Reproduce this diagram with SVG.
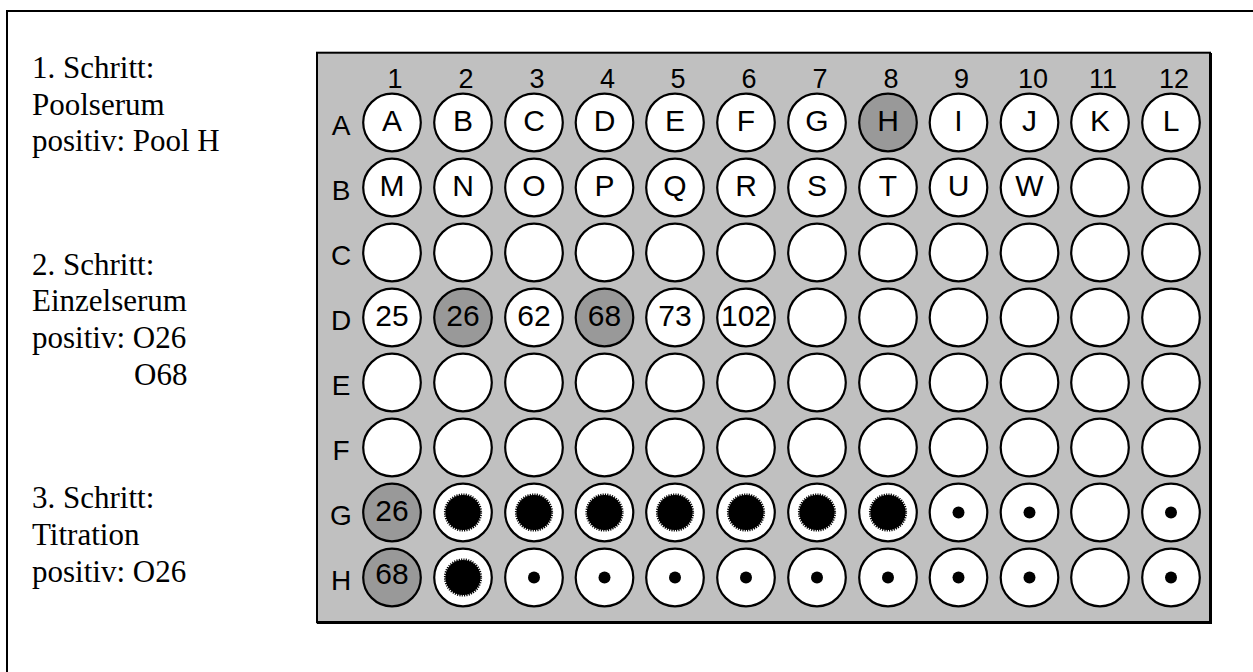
<svg xmlns="http://www.w3.org/2000/svg" xmlns:xlink="http://www.w3.org/1999/xlink" width="1253" height="672" viewBox="0 0 1253 672">
<style>
.w{fill:#fff;stroke:#000;stroke-width:2.2}
.g{fill:#999;stroke:#000;stroke-width:2.2}
.l{font-family:"Liberation Sans",Arial,sans-serif;font-size:30px;text-anchor:middle;fill:#000}
.n{font-family:"Liberation Sans",Arial,sans-serif;font-size:27px;text-anchor:middle;fill:#000}
.r{font-family:"Liberation Sans",Arial,sans-serif;font-size:28px;text-anchor:middle;fill:#000}
.s{font-family:"Liberation Serif","Times New Roman",serif;font-size:31px;fill:#000}
</style>
<defs>
<circle id="sp" r="17.6" fill="#000" stroke="#000" stroke-width="3" stroke-dasharray="1.15 1.15"/>
<circle id="dot" r="6" fill="#000"/>
</defs>
<rect width="1253" height="672" fill="#fff"/>
<g id="frame" stroke="#000" stroke-width="2" fill="none">
<line x1="6" y1="11" x2="1253" y2="11"/>
<line x1="7" y1="10" x2="7" y2="672"/>
</g>
<g id="steps">
<g id="step1"><text class="s" x="32" y="78">1. Schritt:</text><text class="s" x="32" y="114.5">Poolserum</text><text class="s" x="32" y="150.5">positiv: Pool H</text></g>
<g id="step2"><text class="s" x="32" y="275">2. Schritt:</text><text class="s" x="32" y="311">Einzelserum</text><text class="s" x="32" y="348">positiv: O26</text><text class="s" x="134" y="385">O68</text></g>
<g id="step3"><text class="s" x="32" y="508">3. Schritt:</text><text class="s" x="32" y="544.5">Titration</text><text class="s" x="32" y="581.5">positiv: O26</text></g>
</g>
<g id="plate">
<rect x="317" y="52.7" width="893" height="569.5" fill="#c0c0c0" stroke="#000" stroke-width="2"/>
<path d="M1210.5,53 V622.5 H317" fill="none" stroke="#000" stroke-width="3"/>
<g id="colnums">
<text class="n" x="395" y="88">1</text><text class="n" x="466" y="88">2</text><text class="n" x="537" y="88">3</text><text class="n" x="607.5" y="88">4</text><text class="n" x="678" y="88">5</text><text class="n" x="749" y="88">6</text><text class="n" x="820" y="88">7</text><text class="n" x="891" y="88">8</text><text class="n" x="961.5" y="88">9</text><text class="n" x="1033" y="88">10</text><text class="n" x="1103" y="88">11</text><text class="n" x="1174" y="88">12</text>
</g>
<g id="rowlabels">
<text class="r" x="341" y="134.5">A</text><text class="r" x="341" y="199.5">B</text><text class="r" x="341" y="264.5">C</text><text class="r" x="341" y="329.5">D</text><text class="r" x="341" y="394.5">E</text><text class="r" x="341" y="459.5">F</text><text class="r" x="341" y="524.5">G</text><text class="r" x="341" y="589.5">H</text>
</g>
</g>
<g id="wells">
<g id="A1" transform="translate(392,122.5)"><circle class="w" r="28.8"/><text class="l" y="8">A</text></g>
<g id="A2" transform="translate(463,122.5)"><circle class="w" r="28.8"/><text class="l" y="8">B</text></g>
<g id="A3" transform="translate(534,122.5)"><circle class="w" r="28.8"/><text class="l" y="8">C</text></g>
<g id="A4" transform="translate(604.5,122.5)"><circle class="w" r="28.8"/><text class="l" y="8">D</text></g>
<g id="A5" transform="translate(675,122.5)"><circle class="w" r="28.8"/><text class="l" y="8">E</text></g>
<g id="A6" transform="translate(746,122.5)"><circle class="w" r="28.8"/><text class="l" y="8">F</text></g>
<g id="A7" transform="translate(817,122.5)"><circle class="w" r="28.8"/><text class="l" y="8">G</text></g>
<g id="A8" transform="translate(888,122.5)"><circle class="g" r="28.8"/><text class="l" y="8">H</text></g>
<g id="A9" transform="translate(958.5,122.5)"><circle class="w" r="28.8"/><text class="l" y="8">I</text></g>
<g id="A10" transform="translate(1029.5,122.5)"><circle class="w" r="28.8"/><text class="l" y="8">J</text></g>
<g id="A11" transform="translate(1100,122.5)"><circle class="w" r="28.8"/><text class="l" y="8">K</text></g>
<g id="A12" transform="translate(1171,122.5)"><circle class="w" r="28.8"/><text class="l" y="8">L</text></g>

<g id="B1" transform="translate(392,187.5)"><circle class="w" r="28.8"/><text class="l" y="8">M</text></g>
<g id="B2" transform="translate(463,187.5)"><circle class="w" r="28.8"/><text class="l" y="8">N</text></g>
<g id="B3" transform="translate(534,187.5)"><circle class="w" r="28.8"/><text class="l" y="8">O</text></g>
<g id="B4" transform="translate(604.5,187.5)"><circle class="w" r="28.8"/><text class="l" y="8">P</text></g>
<g id="B5" transform="translate(675,187.5)"><circle class="w" r="28.8"/><text class="l" y="8">Q</text></g>
<g id="B6" transform="translate(746,187.5)"><circle class="w" r="28.8"/><text class="l" y="8">R</text></g>
<g id="B7" transform="translate(817,187.5)"><circle class="w" r="28.8"/><text class="l" y="8">S</text></g>
<g id="B8" transform="translate(888,187.5)"><circle class="w" r="28.8"/><text class="l" y="8">T</text></g>
<g id="B9" transform="translate(958.5,187.5)"><circle class="w" r="28.8"/><text class="l" y="8">U</text></g>
<g id="B10" transform="translate(1029.5,187.5)"><circle class="w" r="28.8"/><text class="l" y="8">W</text></g>
<g id="B11" transform="translate(1100,187.5)"><circle class="w" r="28.8"/></g>
<g id="B12" transform="translate(1171,187.5)"><circle class="w" r="28.8"/></g>

<g id="C1" transform="translate(392,252.5)"><circle class="w" r="28.8"/></g>
<g id="C2" transform="translate(463,252.5)"><circle class="w" r="28.8"/></g>
<g id="C3" transform="translate(534,252.5)"><circle class="w" r="28.8"/></g>
<g id="C4" transform="translate(604.5,252.5)"><circle class="w" r="28.8"/></g>
<g id="C5" transform="translate(675,252.5)"><circle class="w" r="28.8"/></g>
<g id="C6" transform="translate(746,252.5)"><circle class="w" r="28.8"/></g>
<g id="C7" transform="translate(817,252.5)"><circle class="w" r="28.8"/></g>
<g id="C8" transform="translate(888,252.5)"><circle class="w" r="28.8"/></g>
<g id="C9" transform="translate(958.5,252.5)"><circle class="w" r="28.8"/></g>
<g id="C10" transform="translate(1029.5,252.5)"><circle class="w" r="28.8"/></g>
<g id="C11" transform="translate(1100,252.5)"><circle class="w" r="28.8"/></g>
<g id="C12" transform="translate(1171,252.5)"><circle class="w" r="28.8"/></g>

<g id="D1" transform="translate(392,317.5)"><circle class="w" r="28.8"/><text class="l" y="8">25</text></g>
<g id="D2" transform="translate(463,317.5)"><circle class="g" r="28.8"/><text class="l" y="8">26</text></g>
<g id="D3" transform="translate(534,317.5)"><circle class="w" r="28.8"/><text class="l" y="8">62</text></g>
<g id="D4" transform="translate(604.5,317.5)"><circle class="g" r="28.8"/><text class="l" y="8">68</text></g>
<g id="D5" transform="translate(675,317.5)"><circle class="w" r="28.8"/><text class="l" y="8">73</text></g>
<g id="D6" transform="translate(746,317.5)"><circle class="w" r="28.8"/><text class="l" y="8">102</text></g>
<g id="D7" transform="translate(817,317.5)"><circle class="w" r="28.8"/></g>
<g id="D8" transform="translate(888,317.5)"><circle class="w" r="28.8"/></g>
<g id="D9" transform="translate(958.5,317.5)"><circle class="w" r="28.8"/></g>
<g id="D10" transform="translate(1029.5,317.5)"><circle class="w" r="28.8"/></g>
<g id="D11" transform="translate(1100,317.5)"><circle class="w" r="28.8"/></g>
<g id="D12" transform="translate(1171,317.5)"><circle class="w" r="28.8"/></g>

<g id="E1" transform="translate(392,382.5)"><circle class="w" r="28.8"/></g>
<g id="E2" transform="translate(463,382.5)"><circle class="w" r="28.8"/></g>
<g id="E3" transform="translate(534,382.5)"><circle class="w" r="28.8"/></g>
<g id="E4" transform="translate(604.5,382.5)"><circle class="w" r="28.8"/></g>
<g id="E5" transform="translate(675,382.5)"><circle class="w" r="28.8"/></g>
<g id="E6" transform="translate(746,382.5)"><circle class="w" r="28.8"/></g>
<g id="E7" transform="translate(817,382.5)"><circle class="w" r="28.8"/></g>
<g id="E8" transform="translate(888,382.5)"><circle class="w" r="28.8"/></g>
<g id="E9" transform="translate(958.5,382.5)"><circle class="w" r="28.8"/></g>
<g id="E10" transform="translate(1029.5,382.5)"><circle class="w" r="28.8"/></g>
<g id="E11" transform="translate(1100,382.5)"><circle class="w" r="28.8"/></g>
<g id="E12" transform="translate(1171,382.5)"><circle class="w" r="28.8"/></g>

<g id="F1" transform="translate(392,447.5)"><circle class="w" r="28.8"/></g>
<g id="F2" transform="translate(463,447.5)"><circle class="w" r="28.8"/></g>
<g id="F3" transform="translate(534,447.5)"><circle class="w" r="28.8"/></g>
<g id="F4" transform="translate(604.5,447.5)"><circle class="w" r="28.8"/></g>
<g id="F5" transform="translate(675,447.5)"><circle class="w" r="28.8"/></g>
<g id="F6" transform="translate(746,447.5)"><circle class="w" r="28.8"/></g>
<g id="F7" transform="translate(817,447.5)"><circle class="w" r="28.8"/></g>
<g id="F8" transform="translate(888,447.5)"><circle class="w" r="28.8"/></g>
<g id="F9" transform="translate(958.5,447.5)"><circle class="w" r="28.8"/></g>
<g id="F10" transform="translate(1029.5,447.5)"><circle class="w" r="28.8"/></g>
<g id="F11" transform="translate(1100,447.5)"><circle class="w" r="28.8"/></g>
<g id="F12" transform="translate(1171,447.5)"><circle class="w" r="28.8"/></g>

<g id="G1" transform="translate(392,512.5)"><circle class="g" r="28.8"/><text class="l" y="8">26</text></g>
<g id="G2" transform="translate(463,512.5)"><circle class="w" r="28.8"/><use xlink:href="#sp"/></g>
<g id="G3" transform="translate(534,512.5)"><circle class="w" r="28.8"/><use xlink:href="#sp"/></g>
<g id="G4" transform="translate(604.5,512.5)"><circle class="w" r="28.8"/><use xlink:href="#sp"/></g>
<g id="G5" transform="translate(675,512.5)"><circle class="w" r="28.8"/><use xlink:href="#sp"/></g>
<g id="G6" transform="translate(746,512.5)"><circle class="w" r="28.8"/><use xlink:href="#sp"/></g>
<g id="G7" transform="translate(817,512.5)"><circle class="w" r="28.8"/><use xlink:href="#sp"/></g>
<g id="G8" transform="translate(888,512.5)"><circle class="w" r="28.8"/><use xlink:href="#sp"/></g>
<g id="G9" transform="translate(958.5,512.5)"><circle class="w" r="28.8"/><use xlink:href="#dot"/></g>
<g id="G10" transform="translate(1029.5,512.5)"><circle class="w" r="28.8"/><use xlink:href="#dot"/></g>
<g id="G11" transform="translate(1100,512.5)"><circle class="w" r="28.8"/></g>
<g id="G12" transform="translate(1171,512.5)"><circle class="w" r="28.8"/><use xlink:href="#dot"/></g>

<g id="H1" transform="translate(392,577.5)"><circle class="g" r="28.8"/><text class="l" y="6">68</text></g>
<g id="H2" transform="translate(463,577.5)"><circle class="w" r="28.8"/><use xlink:href="#sp"/></g>
<g id="H3" transform="translate(534,577.5)"><circle class="w" r="28.8"/><use xlink:href="#dot"/></g>
<g id="H4" transform="translate(604.5,577.5)"><circle class="w" r="28.8"/><use xlink:href="#dot"/></g>
<g id="H5" transform="translate(675,577.5)"><circle class="w" r="28.8"/><use xlink:href="#dot"/></g>
<g id="H6" transform="translate(746,577.5)"><circle class="w" r="28.8"/><use xlink:href="#dot"/></g>
<g id="H7" transform="translate(817,577.5)"><circle class="w" r="28.8"/><use xlink:href="#dot"/></g>
<g id="H8" transform="translate(888,577.5)"><circle class="w" r="28.8"/><use xlink:href="#dot"/></g>
<g id="H9" transform="translate(958.5,577.5)"><circle class="w" r="28.8"/><use xlink:href="#dot"/></g>
<g id="H10" transform="translate(1029.5,577.5)"><circle class="w" r="28.8"/><use xlink:href="#dot"/></g>
<g id="H11" transform="translate(1100,577.5)"><circle class="w" r="28.8"/></g>
<g id="H12" transform="translate(1171,577.5)"><circle class="w" r="28.8"/><use xlink:href="#dot"/></g>
</g>
<g id="connectors"/>
</svg>
